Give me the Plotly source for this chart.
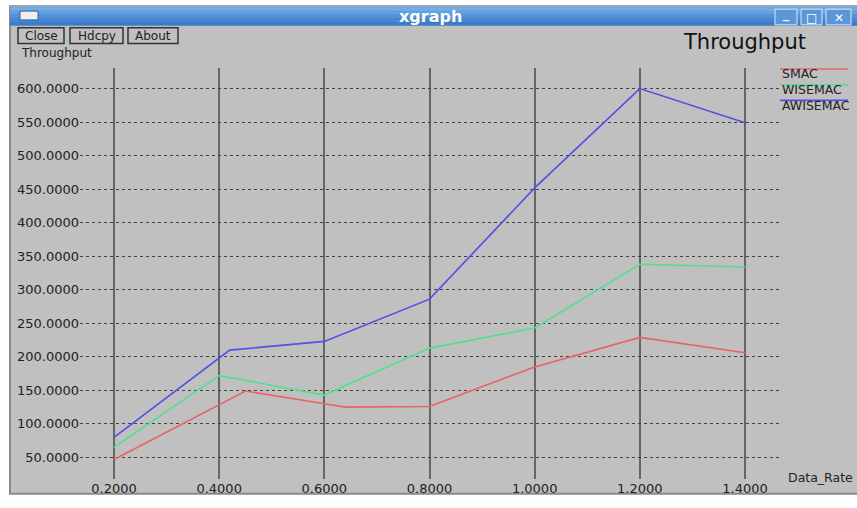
import plotly.graph_objects as go

# ---- data ----
smac_x = [0.2, 0.45, 0.6, 0.64, 0.8, 1.0, 1.2, 1.4]
smac_y = [47, 149, 130, 125, 126, 185, 229, 206]
wisemac_x = [0.2, 0.4, 0.6, 0.8, 1.0, 1.2, 1.4]
wisemac_y = [65, 172, 143, 213, 243, 338, 334]
awisemac_x = [0.2, 0.42, 0.6, 0.8, 1.0, 1.2, 1.4]
awisemac_y = [80, 210, 223, 286, 452, 600, 549]
series_names = ["SMAC", "WISEMAC", "AWISEMAC"]
series_colors = ["#e86464", "#50e090", "#5050e6"]
x_ticks = [0.2, 0.4, 0.6, 0.8, 1.0, 1.2, 1.4]
y_ticks = [50, 100, 150, 200, 250, 300, 350, 400, 450, 500, 550, 600]

W, H = 857, 508
L, R, T, B = 80, 779, 68, 487
FONT = "DejaVu Sans"
GRAY = "#c0c0c0"


def px(x):
    return (x - L) / (R - L)


def py(y):
    return (B - y) / (B - T)


fig = go.Figure()
for xs, ys, name, col in zip([smac_x, wisemac_x, awisemac_x],
                             [smac_y, wisemac_y, awisemac_y],
                             series_names, series_colors):
    fig.add_trace(go.Scatter(x=xs, y=ys, mode="lines", name=name,
                             line=dict(color=col, width=1.6), showlegend=False,
                             hoverinfo="skip"))

shapes = []
ann = []

# window body
shapes.append(dict(type="rect", xref="paper", yref="paper", layer="below",
                   x0=px(10), x1=px(860), y0=py(5), y1=py(502),
                   fillcolor=GRAY, line=dict(color="#8a8a8a", width=2)))
# title bar gradient
bar_cols = ["#74ace4", "#62a0de", "#5292d6", "#4686cf", "#3c7cc8"]
for i, c in enumerate(bar_cols):
    shapes.append(dict(type="rect", xref="paper", yref="paper", layer="below",
                       x0=px(10), x1=px(860), y0=py(5 + 4 * i), y1=py(5 + 4 * (i + 1)),
                       fillcolor=c, line=dict(width=0)))
# left icon
shapes.append(dict(type="rect", xref="paper", yref="paper", layer="below",
                   x0=px(20), x1=px(38), y0=py(10), y1=py(19),
                   fillcolor="#f0f0f0", line=dict(color="#2c5f9e", width=1)))
ann.append(dict(text="<b>xgraph</b>", x=px(430), y=py(15), xref="paper", yref="paper",
                showarrow=False, xanchor="center", yanchor="middle",
                font=dict(family=FONT, size=16, color="white")))
# window control buttons
for x0, x1, glyph in [(775, 797, "_"), (801, 822, "□"), (826, 851, "✕")]:
    shapes.append(dict(type="rect", xref="paper", yref="paper", layer="below",
                       x0=px(x0), x1=px(x1), y0=py(8), y1=py(24),
                       fillcolor="#5b97d8", line=dict(color="#d8e6f5", width=1)))
    ann.append(dict(text="<b>" + glyph + "</b>", x=px((x0 + x1) / 2),
                    y=py(17 if glyph != "_" else 13),
                    xref="paper", yref="paper", showarrow=False,
                    xanchor="center", yanchor="middle",
                    font=dict(family=FONT, size=12, color="white")))

# app buttons
for x0, x1, label in [(18, 64, "Close"), (70, 123, "Hdcpy"), (128, 178, "About")]:
    shapes.append(dict(type="rect", xref="paper", yref="paper", layer="below",
                       x0=px(x0), x1=px(x1), y0=py(27), y1=py(43),
                       fillcolor=GRAY, line=dict(color="#333333", width=1.5)))
    ann.append(dict(text=label, x=px((x0 + x1) / 2), y=py(35), xref="paper", yref="paper",
                    showarrow=False, xanchor="center", yanchor="middle",
                    font=dict(family=FONT, size=12, color="#222222")))

ann.append(dict(text="Throughput", x=px(19), y=py(53), xref="paper", yref="paper",
                showarrow=False, xanchor="left", yanchor="middle",
                font=dict(family=FONT, size=12, color="#222222")))
ann.append(dict(text="Throughput", x=px(681), y=py(42), xref="paper", yref="paper",
                showarrow=False, xanchor="left", yanchor="middle",
                font=dict(family=FONT, size=21, color="#111111")))
ann.append(dict(text="Data_Rate", x=px(786), y=py(485), xref="paper", yref="paper",
                showarrow=False, xanchor="left", yanchor="middle",
                font=dict(family=FONT, size=12.5, color="#222222")))

# legend (xgraph style: line above name)
for i, (name, col) in enumerate(zip(series_names, series_colors)):
    ly = 69 + 16 * i
    shapes.append(dict(type="line", xref="paper", yref="paper",
                       x0=px(780), x1=px(848), y0=py(ly), y1=py(ly),
                       line=dict(color=col, width=1.6)))
    ann.append(dict(text=name, x=px(780), y=py(ly + 5), xref="paper", yref="paper",
                    showarrow=False, xanchor="left", yanchor="middle",
                    font=dict(family=FONT, size=12.5, color="#222222")))

fig.update_layout(
    width=W, height=H,
    margin=dict(l=L, r=W - R, t=T, b=H - B, pad=0),
    paper_bgcolor="white", plot_bgcolor=GRAY,
    shapes=shapes, annotations=ann, showlegend=False, hovermode=False,
    xaxis=dict(range=[0.2 - (114 - L) / 525.8, 1.4 + (R - 745) / 525.8],
               tickvals=x_ticks, tickformat=".4f", showgrid=True,
               gridcolor="#666666", gridwidth=1.6, zeroline=False, showline=False,
               ticks="", tickfont=dict(family=FONT, size=13, color="#222222")),
    yaxis=dict(range=[50 - (B - 465) / 0.6836, 600 + (89 - T) / 0.6836],
               tickvals=y_ticks, tickformat=".4f", showgrid=True,
               gridcolor="#404040", gridwidth=1, griddash="dot", zeroline=False,
               showline=False, ticks="",
               tickfont=dict(family=FONT, size=13, color="#222222")),
)

fig.write_html("out.html", config={"displayModeBar": False},
               post_script="document.body.style.margin='0';document.body.style.overflow='hidden';")
